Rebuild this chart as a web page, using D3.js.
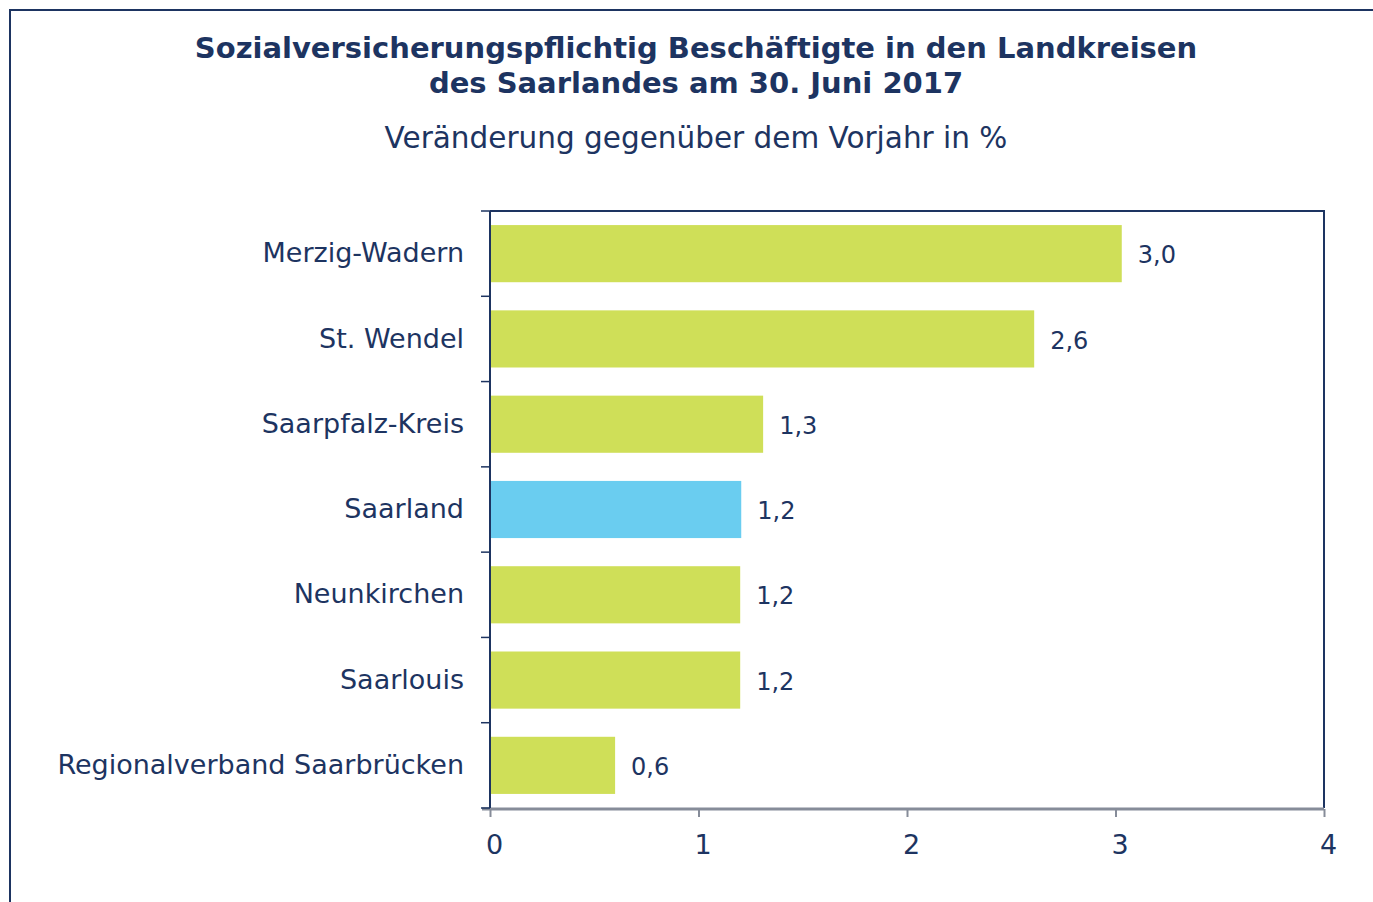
<!DOCTYPE html>
<html lang="de">
<head>
<meta charset="UTF-8">
<title>Sozialversicherungspflichtig Beschäftigte</title>
<script src="https://d3js.org/d3.v7.min.js"></script>
<style>
    body { margin: 0; background: #fff; }
    svg { display: block; }
    svg text { font-family: "DejaVu Sans", Verdana, sans-serif; }
    .title { font-weight: bold; font-size: 29px; fill: #1d3461; }
    .subtitle { font-size: 29.5px; fill: #1d3461; }
    .cat text { font-size: 27px; fill: #1d3461; }
    .xaxis text { font-size: 27px; fill: #1d3461; }
    .val { font-size: 24px; fill: #1d3461; }
</style>
</head>
<body>
<svg width="1373" height="902"></svg>
<script>
    const kreise = ["Merzig-Wadern", "St. Wendel", "Saarpfalz-Kreis", "Saarland", "Neunkirchen", "Saarlouis", "Regionalverband Saarbrücken"];
    const veraenderung = [3.03, 2.61, 1.31, 1.205, 1.2, 1.2, 0.6];
    const xTicks = [0, 1, 2, 3, 4];
    const titel = ["Sozialversicherungspflichtig Beschäftigte in den Landkreisen", "des Saarlandes am 30. Juni 2017"];
    const untertitel = "Veränderung gegenüber dem Vorjahr in %";

    const data = kreise.map((k, i) => ({ name: k, wert: veraenderung[i] }));

    const svg = d3.select("svg");
    const navy = "#1d3461";

    // outer frame (cut off at right and bottom)
    svg.append("rect")
        .attr("x", 10).attr("y", 10)
        .attr("width", 1400).attr("height", 950)
        .attr("fill", "none")
        .attr("stroke", navy)
        .attr("stroke-width", 2);

    svg.selectAll(".title")
        .data(titel)
        .enter().append("text")
        .attr("class", "title")
        .attr("x", 696)
        .attr("y", (d, i) => 58 + i * 35)
        .attr("text-anchor", "middle")
        .text(d => d);

    svg.append("text")
        .attr("class", "subtitle")
        .attr("x", 696)
        .attr("y", 148)
        .attr("text-anchor", "middle")
        .text(untertitel);

    const pLeft = 490, pTop = 211, pRight = 1324, pBottom = 808;

    const x = d3.scaleLinear().domain([0, 4]).range([pLeft, pRight]);
    const y = d3.scaleBand()
        .domain(kreise)
        .range([pTop, pBottom])
        .paddingInner(0.33)
        .paddingOuter(0.165);

    const de = d3.formatLocale({ decimal: ",", thousands: ".", grouping: [3], currency: ["", " €"] });
    const fmt = de.format(".1f");

    // plot frame: top and right
    svg.append("path")
        .attr("d", `M${pLeft},${pTop}H${pRight}V${pBottom}`)
        .attr("fill", "none")
        .attr("stroke", navy)
        .attr("stroke-width", 2);

    svg.selectAll(".bar")
        .data(data)
        .enter().append("rect")
        .attr("class", "bar")
        .attr("x", x(0))
        .attr("y", d => y(d.name))
        .attr("width", d => x(d.wert) - x(0))
        .attr("height", y.bandwidth())
        .attr("fill", d => d.name === "Saarland" ? "#6acdf0" : "#cfdf58");

    svg.selectAll(".val")
        .data(data)
        .enter().append("text")
        .attr("class", "val")
        .attr("x", d => x(d.wert) + 16)
        .attr("y", d => y(d.name) + y.bandwidth() / 2)
        .attr("dy", "0.4em")
        .text(d => fmt(d.wert));

    // x axis
    const xAxis = svg.append("g")
        .attr("class", "xaxis")
        .attr("transform", `translate(0,${pBottom + 1})`)
        .call(d3.axisBottom(x).tickValues(xTicks).tickSize(8).tickPadding(18).tickFormat(d3.format("d")));
    xAxis.attr("font-family", null).attr("font-size", null);
    xAxis.select(".domain").attr("stroke", "#868c99").attr("stroke-width", 3)
        .attr("d", `M${pLeft - 8},0H${pRight}`);
    xAxis.selectAll(".tick line").attr("stroke", "#868c99").attr("stroke-width", 2);
    xAxis.selectAll(".tick text").attr("fill", navy).attr("dx", "0.15em");

    // category axis
    const yAxis = svg.append("g")
        .attr("class", "cat")
        .attr("transform", `translate(${pLeft},0)`)
        .call(d3.axisLeft(y).tickSize(0).tickPadding(26));
    yAxis.attr("font-family", null).attr("font-size", null);
    yAxis.select(".domain").attr("stroke", navy).attr("stroke-width", 2)
        .attr("d", `M0,${pTop}V${pBottom}`);
    yAxis.selectAll(".tick text").attr("fill", navy);

    // separators between categories
    const seps = d3.range(kreise.length + 1).map(i => pTop + i * (pBottom - pTop) / kreise.length);
    svg.selectAll(".sep")
        .data(seps)
        .enter().append("line")
        .attr("x1", pLeft - 9).attr("x2", pLeft)
        .attr("y1", d => d).attr("y2", d => d)
        .attr("stroke", navy)
        .attr("stroke-width", 1.5);
</script>
</body>
</html>
